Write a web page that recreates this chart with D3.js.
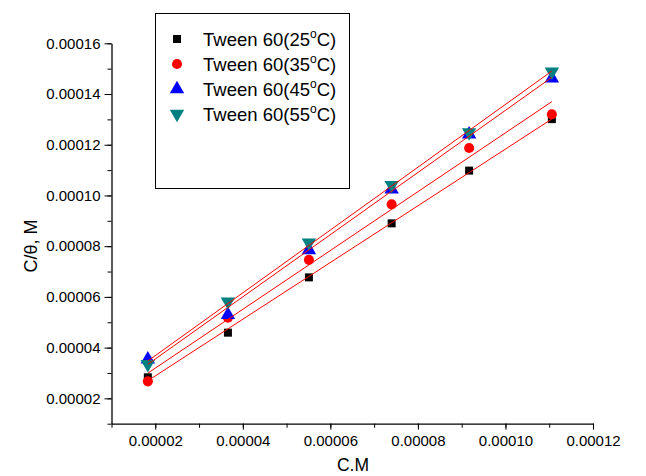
<!DOCTYPE html>
<html>
<head>
<meta charset="utf-8">
<script src="https://cdn.jsdelivr.net/npm/d3@7"></script>
<style>
  body { margin: 0; background: #fff; }
  text { font-family: "Liberation Sans", Arial, sans-serif; }
</style>
</head>
<body>
<svg id="chart" width="646" height="476"></svg>
<script>
// concentration values (x) shared by all series
const conc = [1.83e-5, 3.66e-5, 5.51e-5, 7.40e-5, 9.17e-5, 1.106e-4];

const t25 = [2.83e-5, 4.59e-5, 6.77e-5, 8.90e-5, 1.098e-4, 1.301e-4];
const t35 = [2.67e-5, 5.18e-5, 7.46e-5, 9.65e-5, 1.187e-4, 1.320e-4];
const t45 = [3.54e-5, 5.29e-5, 7.85e-5, 1.024e-4, 1.241e-4, 1.462e-4];
const t55 = [3.35e-5, 5.81e-5, 8.14e-5, 1.041e-4, 1.249e-4, 1.488e-4];

const temps = ["25", "35", "45", "55"];
const seriesValues = [t25, t35, t45, t55];
const colors = ["#000000", "#ff0000", "#0000ff", "#008080"];
const symbols = [d3.symbolSquare, d3.symbolCircle, d3.symbolTriangle, d3.symbolTriangle];

const xTicks = [2e-5, 4e-5, 6e-5, 8e-5, 10e-5, 12e-5];
const yTicks = [2e-5, 4e-5, 6e-5, 8e-5, 10e-5, 12e-5, 14e-5, 16e-5];

const svg = d3.select("#chart");

const x = d3.scaleLinear().domain([1e-5, 12e-5]).range([111.5, 593]);
const y = d3.scaleLinear().domain([1e-5, 16e-5]).range([423.7, 43.3]);

const fmt = d3.format(".5f");

// x axis
const xMinor = d3.range(1, 13).map(i => i * 1e-5);
svg.append("g")
    .attr("transform", "translate(0," + y(1e-5) + ")")
    .call(d3.axisBottom(x).tickValues(xMinor).tickSizeInner(4).tickSizeOuter(0).tickFormat(""))
    .call(g => g.select(".domain").attr("stroke-width", 1.3));
svg.append("g")
    .attr("transform", "translate(0," + y(1e-5) + ")")
    .call(d3.axisBottom(x).tickValues(xTicks).tickSizeInner(6).tickSizeOuter(0).tickFormat(fmt).tickPadding(6))
    .call(g => g.select(".domain").remove())
    .call(g => g.selectAll("text").attr("font-size", 15).attr("fill", "#000"));

// y axis
const yMinor = d3.range(1, 17).map(i => i * 1e-5);
svg.append("g")
    .attr("transform", "translate(" + x(1e-5) + ",0)")
    .call(d3.axisLeft(y).tickValues(yMinor).tickSizeInner(4).tickSizeOuter(0).tickFormat(""))
    .call(g => g.select(".domain").attr("stroke-width", 1.3));
svg.append("g")
    .attr("transform", "translate(" + x(1e-5) + ",0)")
    .call(d3.axisLeft(y).tickValues(yTicks).tickSizeInner(7).tickSizeOuter(0).tickFormat(fmt).tickPadding(4))
    .call(g => g.select(".domain").remove())
    .call(g => g.selectAll("text").attr("font-size", 15).attr("fill", "#000"));

// axis titles
svg.append("text")
    .attr("x", 353).attr("y", 471)
    .attr("text-anchor", "middle")
    .attr("font-size", 17.5)
    .text("C.M");
svg.append("text")
    .attr("transform", "translate(37,246) rotate(-90)")
    .attr("text-anchor", "middle")
    .attr("font-size", 18)
    .text("C/\u03b8, M");

function markPath(i, size) {
    return d3.symbol().type(symbols[i]).size(size)();
}
const markSizes = [64, 80, 90, 90];

// markers
seriesValues.forEach((vals, i) => {
    svg.append("g").selectAll("path")
        .data(vals)
        .join("path")
        .attr("d", markPath(i, markSizes[i]))
        .attr("transform", (d, j) => "translate(" + x(conc[j]) + "," + y(d) + ")" + (i === 3 ? " rotate(180)" : ""))
        .attr("fill", colors[i]);
});

// linear fit lines
seriesValues.forEach(vals => {
    const mx = d3.mean(conc), my = d3.mean(vals);
    const sxy = d3.sum(conc, (c, j) => (c - mx) * (vals[j] - my));
    const sxx = d3.sum(conc, c => (c - mx) * (c - mx));
    const b = sxy / sxx, a = my - b * mx;
    const ends = [conc[0], conc[conc.length - 1]];
    svg.append("line")
        .attr("x1", x(ends[0])).attr("y1", y(a + b * ends[0]))
        .attr("x2", x(ends[1])).attr("y2", y(a + b * ends[1]))
        .attr("stroke", "#ff0000")
        .attr("stroke-width", 1);
});

// legend
const legend = svg.append("g");
legend.append("rect")
    .attr("x", 155.5).attr("y", 13.5)
    .attr("width", 194).attr("height", 175)
    .attr("fill", "#fff")
    .attr("stroke", "#000")
    .attr("stroke-width", 1);
temps.forEach((t, i) => {
    const cy = 39 + i * 25;
    legend.append("path")
        .attr("d", markPath(i, markSizes[i]))
        .attr("transform", "translate(177," + cy + ")" + (i === 3 ? " rotate(180)" : ""))
        .attr("fill", colors[i]);
    const txt = legend.append("text")
        .attr("x", 203).attr("y", cy + 7)
        .attr("font-size", 18.5);
    txt.append("tspan").text("Tween 60(" + t);
    txt.append("tspan").attr("font-size", 12).attr("dy", -8).text("o");
    txt.append("tspan").attr("dy", 8).text("C)");
});
</script>
</body>
</html>
